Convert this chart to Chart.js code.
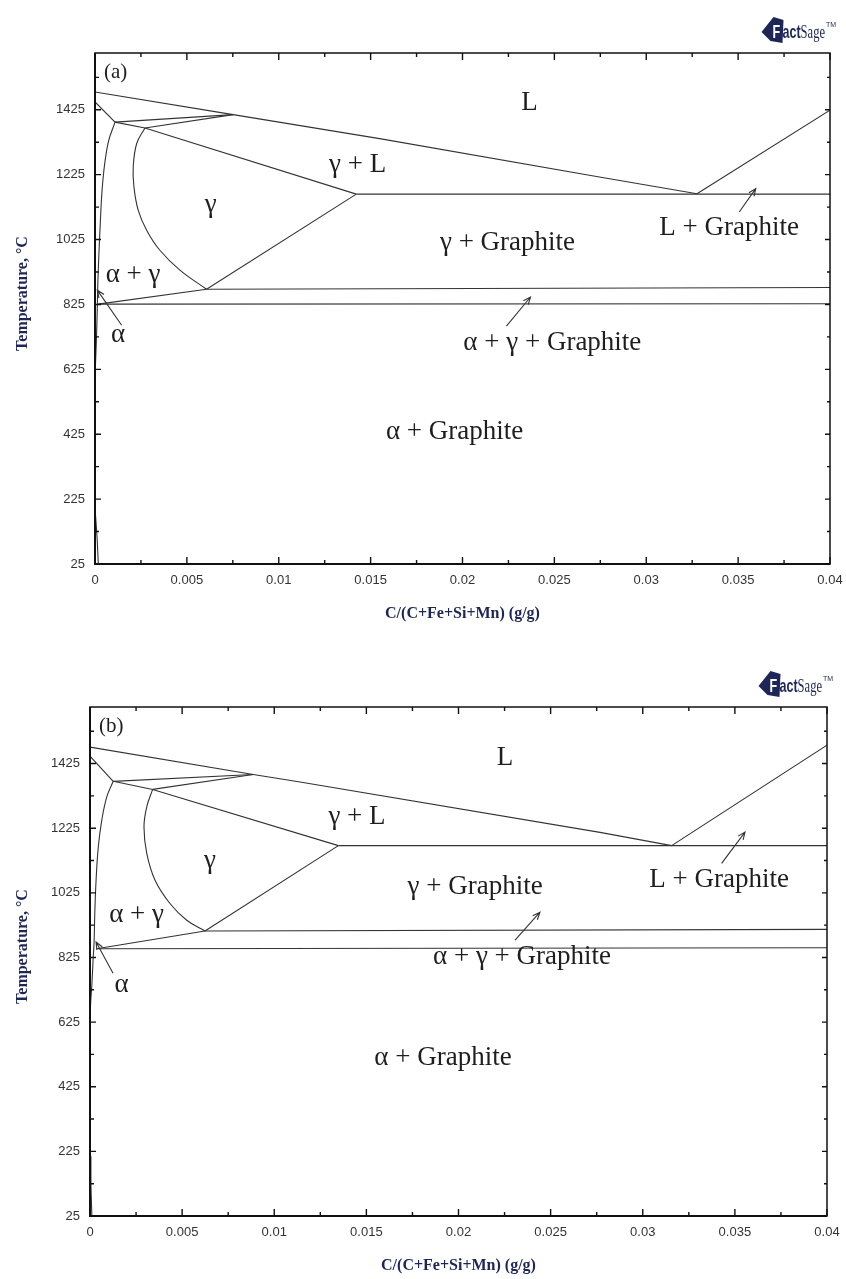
<!DOCTYPE html>
<html>
<head>
<meta charset="utf-8">
<script src="https://cdn.jsdelivr.net/npm/chart.js@4.4.1/dist/chart.umd.min.js"></script>
<style>
  body { margin: 0; background: #fff; }
  #wrap { position: relative; width: 846px; height: 1279px; background: #fff; }
  canvas { position: absolute; left: 0; }
</style>
</head>
<body>
<div id="wrap">
  <canvas id="chartA" width="846" height="640" style="top:0"></canvas>
  <canvas id="chartB" width="846" height="639" style="top:640px"></canvas>
</div>
<script>
// axis ticks (both panels)
const xTicks = [0, 0.005, 0.01, 0.015, 0.02, 0.025, 0.03, 0.035, 0.04];
const xMinorTicks = [0.0025, 0.0075, 0.0125, 0.0175, 0.0225, 0.0275, 0.0325, 0.0375];
const yTicks = [25, 225, 425, 625, 825, 1025, 1225, 1425];
const yMinorTicks = [125, 325, 525, 725, 925, 1125, 1325, 1525];

// panel (a) phase boundaries [C mass fraction, T]
const liqA = [[0, 1480], [0.00752, 1410], [0.01549, 1336], [0.02745, 1218], [0.03276, 1166]];
const grLiqA = [[0.03276, 1166], [0.04, 1424]];
const eutA = [[0.01422, 1165], [0.04, 1165]];
const deltaA = [[0, 1449], [0.00109, 1387]];
const peritA = [[0.00109, 1387], [0.00752, 1410]];
const perit2A = [[0.00272, 1369], [0.00752, 1410]];
const solidusA = [[0.00109, 1387], [0.00272, 1369], [0.01422, 1165]];
const acmA = [[0.01422, 1165], [0.00607, 872]];
const eutdUpA = [[0.00607, 872], [0.04, 877]];
const a1A = [[0.00607, 872], [0.00018, 826]];
const eutdLoA = [[0.00018, 826], [0.04, 827]];
const lowA = [[0.00003, 175], [0.00012, 100], [0.00018, 25]];
const arcA = [[0.00272, 1369], [0.00227, 1321], [0.00208, 1249], [0.00212, 1187], [0.00235, 1116],
  [0.00281, 1054], [0.00353, 992], [0.00462, 931], [0.00607, 872]];
const a3A = [[0.00109, 1387], [0.00071, 1322], [0.00043, 1208], [0.00027, 1054], [0.00016, 900],
  [0.00013, 826], [0.00009, 740], [0.00004, 660], [0.00001, 620]];

// panel (b) phase boundaries
const liqB = [[0, 1476], [0.00886, 1391], [0.0114, 1368], [0.02768, 1212], [0.03157, 1171]];
const grLiqB = [[0.03157, 1171], [0.04, 1482]];
const eutB = [[0.01348, 1171], [0.04, 1171]];
const deltaB = [[0, 1448], [0.00126, 1370]];
const peritB = [[0.00126, 1370], [0.00886, 1391]];
const perit2B = [[0.0034, 1345], [0.00886, 1391]];
const solidusB = [[0.00126, 1370], [0.0034, 1345], [0.01348, 1171]];
const acmB = [[0.01348, 1171], [0.00624, 907]];
const eutdUpB = [[0.00624, 907], [0.04, 912]];
const a1B = [[0.00624, 907], [0.00036, 852]];
const eutdLoB = [[0.00036, 852], [0.04, 855]];
const lowB = [[0.00002, 210], [0.00005, 120], [0.0001, 25]];
const arcB = [[0.0034, 1345], [0.00308, 1291], [0.00293, 1229], [0.00308, 1147], [0.00353, 1064],
  [0.00434, 992], [0.00525, 940], [0.00624, 907]];
const a3B = [[0.00126, 1370], [0.00091, 1322], [0.00064, 1250], [0.00045, 1167], [0.00033, 1064],
  [0.00026, 962], [0.00022, 870], [0.00017, 820], [0.0001, 740], [0.00004, 690], [0.00001, 650]];

// region names and arrows, in data units
const labelsA = [["L", 0.02364, 1445], ["γ + L", 0.01429, 1254], ["γ", 0.0063, 1131], ["α + γ", 0.00207, 915],
  ["γ + Graphite", 0.02245, 1014], ["L + Graphite", 0.03451, 1060], ["α + γ + Graphite", 0.02489, 706],
  ["α", 0.00125, 730], ["α + Graphite", 0.01957, 432]];
const arrowsA = [[0.00145, 761, 0.000125, 869], [0.02239, 758, 0.0237, 848], [0.03506, 1110, 0.03596, 1182]];
const labelsB = [["L", 0.02252, 1441], ["γ + L", 0.01449, 1259], ["γ", 0.00651, 1123], ["α + γ", 0.00253, 956],
  ["γ + Graphite", 0.0209, 1042], ["L + Graphite", 0.03414, 1064], ["α + γ + Graphite", 0.02345, 826],
  ["α", 0.00172, 739], ["α + Graphite", 0.01916, 514]];
const arrowsB = [[0.00125, 776, 0.00033, 873], [0.02307, 879, 0.02442, 965], [0.03428, 1116, 0.03555, 1213]];

const SERIF = "'Liberation Serif', 'Times New Roman', serif";
const SANS = "'Liberation Sans', Arial, sans-serif";
const NAVY = "#1d2657";

function fmtX(v) {
  return String(parseFloat(Number(v).toFixed(4)));
}

// FactSage mark, right edge at rx, bottom at by
function drawLogo(ctx, rx, by) {
  const sx = 0.66;
  ctx.save();
  ctx.font = "bold 19px " + SANS;
  const wAct = ctx.measureText("act").width * sx;
  ctx.font = "19px " + SERIF;
  const wSage = ctx.measureText("Sage").width * sx;
  const total = 22 + wAct + wSage + 7;
  ctx.translate(rx - total, by);
  ctx.fillStyle = NAVY;
  ctx.beginPath();
  ctx.moveTo(0, -11);
  ctx.lineTo(12, -26);
  ctx.lineTo(22, -23);
  ctx.lineTo(21, 0);
  ctx.lineTo(9, -2);
  ctx.closePath();
  ctx.fill();
  ctx.textAlign = "left";
  ctx.textBaseline = "alphabetic";
  ctx.save();
  ctx.scale(sx, 1);
  ctx.font = "bold 19px " + SANS;
  ctx.fillStyle = "#fff";
  ctx.fillText("F", 11 / sx, -5);
  ctx.fillStyle = NAVY;
  ctx.fillText("act", 21 / sx, -5);
  ctx.font = "19px " + SERIF;
  ctx.fillText("Sage", (21 + wAct) / sx, -5);
  ctx.restore();
  ctx.font = "7px " + SANS;
  ctx.fillStyle = NAVY;
  ctx.fillText("TM", 22 + wAct + wSage, -16);
  ctx.restore();
}

function makeOverlay(p) {
  return {
    id: "overlay" + p.tag,
    afterDraw(chart) {
      const ctx = chart.ctx;
      const a = chart.chartArea;
      const x = chart.scales.x;
      const y = chart.scales.y;
      ctx.save();

      // frame
      ctx.strokeStyle = "#111";
      ctx.lineWidth = 1.5;
      ctx.strokeRect(a.left, a.top, a.right - a.left, a.bottom - a.top);
      ctx.lineWidth = 2;
      ctx.beginPath();
      ctx.moveTo(a.left, a.top); ctx.lineTo(a.left, a.bottom); ctx.lineTo(a.right, a.bottom);
      ctx.stroke();

      // inward tick marks
      ctx.lineWidth = 1.4;
      ctx.beginPath();
      const xt = (vals, len) => vals.forEach(v => {
        const px = x.getPixelForValue(v);
        ctx.moveTo(px, a.bottom); ctx.lineTo(px, a.bottom - len);
        ctx.moveTo(px, a.top); ctx.lineTo(px, a.top + len);
      });
      const yt = (vals, len) => vals.filter(v => v <= y.max).forEach(v => {
        const py = y.getPixelForValue(v);
        ctx.moveTo(a.left, py); ctx.lineTo(a.left + len, py);
        ctx.moveTo(a.right, py); ctx.lineTo(a.right - len + 1, py);
      });
      xt(xTicks, 7); xt(xMinorTicks, 4);
      yt(yTicks, 6); yt(yMinorTicks, 4);
      ctx.stroke();

      // region labels
      ctx.fillStyle = "#1e1e1e";
      ctx.font = "27px " + SERIF;
      ctx.textAlign = "center";
      ctx.textBaseline = "middle";
      p.labels.forEach(([t, vx, vy]) => ctx.fillText(t, x.getPixelForValue(vx), y.getPixelForValue(vy)));

      // panel tag
      ctx.font = "21px " + SERIF;
      ctx.textAlign = "left";
      ctx.fillText("(" + p.tag + ")", a.left + 9, a.top + 19);

      // arrows
      ctx.strokeStyle = "#333";
      ctx.lineWidth = 1.1;
      p.arrows.forEach(([x0, y0, x1, y1]) => {
        const sx = x.getPixelForValue(x0), sy = y.getPixelForValue(y0);
        const ex = x.getPixelForValue(x1), ey = y.getPixelForValue(y1);
        const ang = Math.atan2(ey - sy, ex - sx);
        ctx.beginPath();
        ctx.moveTo(sx, sy); ctx.lineTo(ex, ey);
        ctx.moveTo(ex - 8 * Math.cos(ang - 0.4), ey - 8 * Math.sin(ang - 0.4));
        ctx.lineTo(ex, ey);
        ctx.lineTo(ex - 8 * Math.cos(ang + 0.4), ey - 8 * Math.sin(ang + 0.4));
        ctx.stroke();
      });

      // axis titles
      ctx.fillStyle = NAVY;
      ctx.font = "bold 16px " + SERIF;
      ctx.textAlign = "center";
      ctx.textBaseline = "middle";
      ctx.fillText("C/(C+Fe+Si+Mn) (g/g)", (a.left + a.right) / 2, a.bottom + 50);
      ctx.save();
      ctx.translate(23, (a.top + a.bottom) / 2 - 15);
      ctx.rotate(-Math.PI / 2);
      ctx.fillText("Temperature, °C", 0, 0);
      ctx.restore();

      drawLogo(ctx, a.right + 3, a.top - 10);
      ctx.restore();
    }
  };
}

function panel(id, p) {
  const toDs = (pts, smooth) => ({
    data: pts.map(([x, y]) => ({ x, y })),
    showLine: true,
    pointRadius: 0,
    borderColor: "#333",
    borderWidth: 1.1,
    tension: smooth ? 0.4 : 0,
    fill: false
  });
  const datasets = p.lines.map(l => toDs(l, false)).concat(p.curves.map(l => toDs(l, true)));
  const tickFont = { family: SANS, size: 13 };
  return new Chart(document.getElementById(id), {
    type: "scatter",
    data: { datasets: datasets },
    options: {
      responsive: false,
      animation: false,
      devicePixelRatio: 1,
      layout: { padding: { left: 0, top: p.padTop, right: p.padRight, bottom: 0 } },
      plugins: { legend: { display: false }, tooltip: { enabled: false } },
      scales: {
        x: {
          type: "linear", min: 0, max: 0.04,
          grid: { display: false, drawTicks: false },
          border: { display: false },
          afterBuildTicks: s => { s.ticks = xTicks.map(v => ({ value: v })); },
          afterFit: s => { s.height = p.xAxisH; s.paddingLeft = 0; s.paddingRight = 0; },
          ticks: { autoSkip: false, maxRotation: 0, padding: 9, color: "#333", font: tickFont,
            callback: v => fmtX(v) }
        },
        y: {
          type: "linear", min: 25, max: 1600,
          grid: { display: false, drawTicks: false },
          border: { display: false },
          afterBuildTicks: s => { s.ticks = yTicks.map(v => ({ value: v })); },
          afterFit: s => { s.width = p.yAxisW; s.paddingTop = 0; s.paddingBottom = 0; },
          ticks: { autoSkip: false, padding: 10, color: "#333", font: tickFont,
            callback: v => String(v) }
        }
      }
    },
    plugins: [makeOverlay(p)]
  });
}

panel("chartA", {
  tag: "a", padTop: 53, padRight: 16, yAxisW: 95, xAxisH: 76,
  lines: [liqA, grLiqA, eutA, deltaA, peritA, perit2A, solidusA, acmA, eutdUpA, a1A, eutdLoA, lowA],
  curves: [arcA, a3A],
  labels: labelsA, arrows: arrowsA
});

panel("chartB", {
  tag: "b", padTop: 67, padRight: 19, yAxisW: 90, xAxisH: 63,
  lines: [liqB, grLiqB, eutB, deltaB, peritB, perit2B, solidusB, acmB, eutdUpB, a1B, eutdLoB, lowB],
  curves: [arcB, a3B],
  labels: labelsB, arrows: arrowsB
});
</script>
</body>
</html>
